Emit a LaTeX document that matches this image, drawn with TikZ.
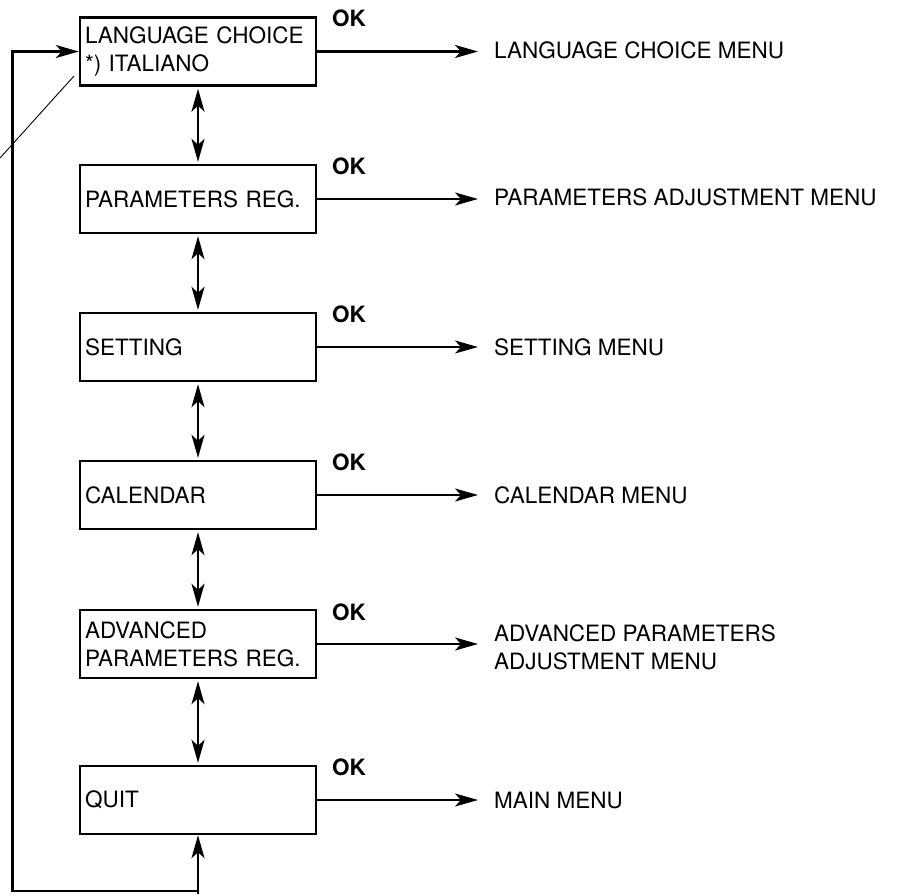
\documentclass[tikz,border=0pt]{standalone}
\usepackage{fontspec}
\setmainfont{TeX Gyre Heros}
\usetikzlibrary{arrows.meta}
\begin{document}
\begin{tikzpicture}[x=1pt,y=-1pt,
  >={Stealth[length=23pt,width=13pt,inset=6pt]},
  menubox/.style={draw,line width=2.4pt,rectangle,minimum height=68pt,
    text width=226pt,inner xsep=5pt,inner ysep=0pt,align=left,
    font=\fontsize{22.5}{28}\selectfont},
  target/.style={anchor=west,inner sep=0pt,align=left,
    font=\fontsize{22.5}{28}\selectfont},
  oklabel/.style={anchor=west,inner sep=0pt,font=\fontsize{22.5}{28}\selectfont\bfseries},
  link/.style={line width=2.2pt},
  leader/.style={line width=0.9pt}]
\useasboundingbox (0,0) rectangle (897,895);

% menu entries
\node[menubox] (b1) at (198,51.5) {LANGUAGE CHOICE\\{}*) ITALIANO};
\node[menubox] (b2) at (198,199)  {PARAMETERS REG.};
\node[menubox] (b3) at (198,347)  {SETTING};
\node[menubox] (b4) at (198,495)  {CALENDAR};
\node[menubox] (b5) at (198,644)  {ADVANCED\\PARAMETERS REG.};
\node[menubox] (b6) at (198,800)  {QUIT};

% OK keys
\node[oklabel] (ok1) at (332,18)  {OK};
\node[oklabel] (ok2) at (332,166) {OK};
\node[oklabel] (ok3) at (332,314) {OK};
\node[oklabel] (ok4) at (332,462) {OK};
\node[oklabel] (ok5) at (332,612) {OK};
\node[oklabel] (ok6) at (332,767) {OK};

% submenus reached with OK
\node[target] (t1) at (494,50)  {LANGUAGE CHOICE MENU};
\node[target] (t2) at (494,197) {PARAMETERS ADJUSTMENT MENU};
\node[target] (t3) at (494,347) {SETTING MENU};
\node[target] (t4) at (494,495) {CALENDAR MENU};
\node[target] (t5) at (494,647) {ADVANCED PARAMETERS\\ADJUSTMENT MENU};
\node[target] (t6) at (494,800) {MAIN MENU};

\foreach \i in {1,...,6}
  \draw[link,->,shorten >=16pt] (b\i.east) -- (b\i.east -| t\i.west);

% scrolling between entries
\foreach \i/\j in {1/2,2/3,3/4,4/5,5/6}
  \draw[link,<->,shorten <=2pt,shorten >=2pt] (b\i.south) -- (b\j.north);

% wrap-around from the last entry back to the first
\coordinate (loopR) at (198,891);
\coordinate (loopL) at (12.5,891);
\draw[link,->] (loopR |- 0,894) -- (b6.south);
\draw[link,->] (loopR) -- (loopL) |- (b1.west);

% leader line to the language setting
\coordinate (leadA) at (0,158);
\coordinate (leadB) at (74,76);
\draw[leader] (leadA) -- (leadB);
\end{tikzpicture}
\end{document}
